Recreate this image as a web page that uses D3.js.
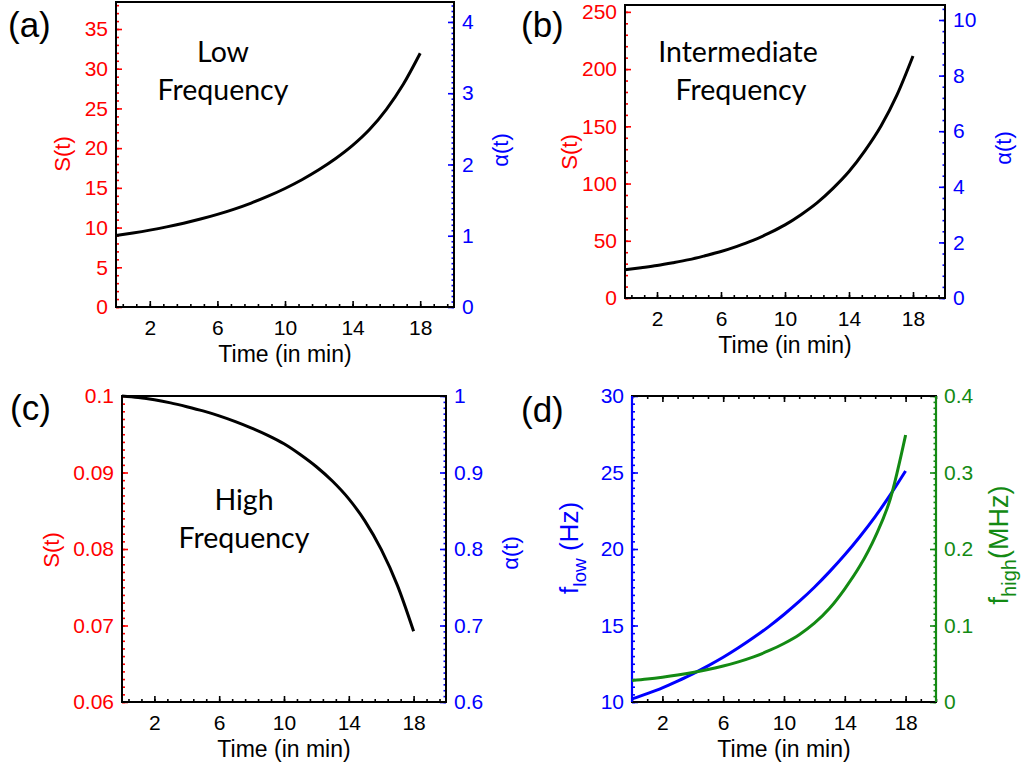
<!DOCTYPE html>
<html>
<head>
<meta charset="utf-8">
<title>Frecuencias</title>
<script src="https://cdn.jsdelivr.net/npm/d3@7"></script>
<style>
  body { margin: 0; background: #fff; }
  text { font-family: "Liberation Sans", Arial, sans-serif; }
  .nota { font-family: Lato, "Open Sans", sans-serif; }
</style>
</head>
<body>
<svg id="fig" width="1032" height="769"></svg>
<script>
// tiempo en minutos
const tiempo = [0, 1, 2, 3, 4, 5, 6, 7, 8, 9, 10, 11, 12, 13, 14, 15, 16, 17, 18];

// (a) baja frecuencia, S(t)
const sBaja = [9.0, 9.32, 9.68, 10.09, 10.55, 11.07, 11.66, 12.33, 13.09, 13.95, 14.92,
  16.02, 17.27, 18.69, 20.34, 22.34, 24.89, 28.04, 31.94];
// (b) frecuencia intermedia, S(t)
const sMedia = [24.7, 26.5, 28.4, 30.8, 33.5, 36.9, 40.6, 45.1, 50.3, 56.6, 63.9,
  72.8, 83.1, 95.8, 110.5, 128.8, 150.3, 177.5, 211.5];
// (c) alta frecuencia, S(t)
const sAlta = [0.1, 0.0998, 0.0995, 0.0991, 0.0986, 0.09805, 0.0974, 0.09665, 0.0958,
  0.09485, 0.09375, 0.09235, 0.09075, 0.08885, 0.08655, 0.08365, 0.07995, 0.07525, 0.06925];
// (d) f_low (Hz) y f_high (MHz)
const fBaja = [10.2, 10.55, 10.93, 11.37, 11.84, 12.36, 12.92, 13.54, 14.21, 14.93, 15.72,
  16.57, 17.50, 18.52, 19.62, 20.82, 22.12, 23.55, 25.10];
const fAlta = [0.028, 0.030, 0.0324, 0.0352, 0.0385, 0.0424, 0.0470, 0.0525, 0.0590, 0.0670,
  0.0765, 0.0880, 0.1030, 0.1225, 0.148, 0.178, 0.216, 0.266, 0.349];

// ticks
const ticksX = [2, 6, 10, 14, 18];
const ticksA_izq = [0, 5, 10, 15, 20, 25, 30, 35];
const ticksA_der = [0, 1, 2, 3, 4];
const ticksB_izq = [0, 50, 100, 150, 200, 250];
const ticksB_der = [0, 2, 4, 6, 8, 10];
const ticksC_izq = [0.06, 0.07, 0.08, 0.09, 0.1];
const ticksC_der = [0.6, 0.7, 0.8, 0.9, 1];
const ticksD_izq = [10, 15, 20, 25, 30];
const ticksD_der = [0, 0.1, 0.2, 0.3, 0.4];

const ROJO = "#ff0000", AZUL = "#0000ff", VERDE = "#138a13";

const svg = d3.select("#fig");

function menores(dom, paso, origen) {
  const out = [];
  const lo = Math.min(dom[0], dom[1]), hi = Math.max(dom[0], dom[1]);
  const n0 = Math.ceil((lo - origen) / paso - 1e-9);
  for (let i = n0; origen + i * paso <= hi + 1e-9; i++) out.push(origen + i * paso);
  return out;
}

function estilo(sel, color) {
  sel.select(".domain").remove();
  sel.selectAll(".tick line").attr("stroke", color).attr("stroke-width", 1.6);
  sel.selectAll(".tick text").attr("fill", color).style("font-size", "21px")
    .style("font-family", "'Liberation Sans', Arial, sans-serif");
}

function panel(p) {
  const g = svg.append("g");
  const x = d3.scaleLinear().domain([0, 20]).range([p.izq, p.der]);
  const yI = d3.scaleLinear().domain(p.domI).range([p.abajo, p.arriba]);
  const yD = d3.scaleLinear().domain(p.domD).range([p.abajo, p.arriba]);

  // eje x
  const ex = g.append("g").attr("transform", `translate(0,${p.abajo})`)
    .call(d3.axisBottom(x).tickValues(ticksX).tickSize(-6).tickPadding(13));
  estilo(ex, "#000");
  const exm = g.append("g").attr("transform", `translate(0,${p.abajo})`)
    .call(d3.axisBottom(x).tickValues(menores([0, 20], p.pasoX, 2)).tickSize(-3).tickFormat(""));
  estilo(exm, "#000");
  if (p.arribaTicks) {
    const et = g.append("g").attr("transform", `translate(0,${p.arriba})`)
      .call(d3.axisTop(x).tickValues(ticksX).tickSize(-6).tickFormat(""));
    estilo(et, "#000");
    const etm = g.append("g").attr("transform", `translate(0,${p.arriba})`)
      .call(d3.axisTop(x).tickValues(menores([0, 20], p.pasoX, 2)).tickSize(-3).tickFormat(""));
    estilo(etm, "#000");
  }

  // eje izquierdo
  const ei = g.append("g").attr("transform", `translate(${p.izq},0)`)
    .call(d3.axisLeft(yI).tickValues(p.ticksI).tickSize(-6).tickPadding(8).tickFormat(d => String(d)));
  estilo(ei, p.colI);
  const eim = g.append("g").attr("transform", `translate(${p.izq},0)`)
    .call(d3.axisLeft(yI).tickValues(menores(p.domI, p.pasoI, p.ticksI[0])).tickSize(-3).tickFormat(""));
  estilo(eim, p.colI);

  // eje derecho
  const ed = g.append("g").attr("transform", `translate(${p.der},0)`)
    .call(d3.axisRight(yD).tickValues(p.ticksD).tickSize(-6).tickPadding(8).tickFormat(d => String(d)));
  estilo(ed, p.colD);
  const edm = g.append("g").attr("transform", `translate(${p.der},0)`)
    .call(d3.axisRight(yD).tickValues(menores(p.domD, p.pasoD, p.ticksD[0])).tickSize(-2.5).tickFormat(""));
  estilo(edm, p.colD);

  // marco
  g.append("rect").attr("x", p.izq).attr("y", p.arriba)
    .attr("width", p.der - p.izq).attr("height", p.abajo - p.arriba)
    .attr("fill", "none").attr("stroke", "#000").attr("stroke-width", 2);
  if (p.lineaI) g.append("line").attr("x1", p.izq).attr("x2", p.izq)
    .attr("y1", p.arriba).attr("y2", p.abajo).attr("stroke", p.lineaI).attr("stroke-width", 2.2);
  if (p.lineaD) g.append("line").attr("x1", p.der).attr("x2", p.der)
    .attr("y1", p.arriba).attr("y2", p.abajo).attr("stroke", p.lineaD).attr("stroke-width", 2.2);

  // curvas
  p.series.forEach(s => {
    const y = s.eje === "der" ? yD : yI;
    const linea = d3.line().x((d, i) => x(tiempo[i])).y(d => y(d)).curve(d3.curveMonotoneX);
    g.append("path").datum(s.valores).attr("d", linea)
      .attr("fill", "none").attr("stroke", s.color).attr("stroke-width", 3);
  });

  // titulo eje x
  g.append("text").attr("x", (p.izq + p.der) / 2).attr("y", p.abajo + 55)
    .attr("text-anchor", "middle").style("font-size", "23px").text("Time (in min)");

  // etiqueta de panel
  g.append("text").attr("x", p.letra[0]).attr("y", p.letra[1])
    .style("font-size", "35px").text(p.nombre);

  // nota
  if (p.nota) p.nota.forEach(n => {
    g.append("text").attr("class", "nota").attr("x", n[1]).attr("y", n[2])
      .attr("text-anchor", "middle").style("font-size", "28.5px").text(n[0]);
  });
  return g;
}

function tituloRot(x, y, color, tam) {
  return svg.append("text").attr("transform", `translate(${x},${y}) rotate(-90)`)
    .attr("text-anchor", "middle").attr("fill", color).style("font-size", (tam || 22) + "px");
}

panel({
  nombre: "(a)", letra: [8, 37],
  izq: 116, der: 454, arriba: 2, abajo: 307,
  domI: [0, 38.4], domD: [0, 4.28],
  ticksI: ticksA_izq, ticksD: ticksA_der,
  pasoI: 1, pasoD: 1 / 13, pasoX: 0.8,
  colI: ROJO, colD: AZUL,
  series: [{ valores: sBaja, color: "#000" }],
  nota: [["Low", 223, 62], ["Frequency", 223, 100]]
});
tituloRot(70, 154, ROJO).text("S(t)");
tituloRot(508, 150, AZUL).text("α(t)");

panel({
  nombre: "(b)", letra: [521, 37],
  izq: 625, der: 945, arriba: 5, abajo: 298,
  domI: [0, 256], domD: [0, 10.54],
  ticksI: ticksB_izq, ticksD: ticksB_der,
  pasoI: 10, pasoD: 0.4, pasoX: 0.8,
  colI: ROJO, colD: AZUL,
  series: [{ valores: sMedia, color: "#000" }],
  nota: [["Intermediate", 738, 62], ["Frequency", 741, 100]]
});
tituloRot(577, 152, ROJO).text("S(t)");
tituloRot(1011, 148, AZUL).text("α(t)");

panel({
  nombre: "(c)", letra: [10, 420],
  izq: 122, der: 446, arriba: 396, abajo: 702,
  domI: [0.06, 0.1], domD: [0.6, 1],
  ticksI: ticksC_izq, ticksD: ticksC_der,
  pasoI: 0.001, pasoD: 0.1 / 13, pasoX: 0.8,
  colI: ROJO, colD: AZUL,
  series: [{ valores: sAlta, color: "#000" }],
  nota: [["High", 244, 510], ["Frequency", 244, 548]]
});
tituloRot(59, 550, ROJO).text("S(t)");
tituloRot(518, 553, AZUL).text("α(t)");

panel({
  nombre: "(d)", letra: [521, 422],
  izq: 632, der: 936, arriba: 396, abajo: 702,
  domI: [10, 30], domD: [0, 0.4],
  ticksI: ticksD_izq, ticksD: ticksD_der,
  pasoI: 0.5, pasoD: 0.1 / 13, pasoX: 1,
  colI: AZUL, colD: VERDE, lineaI: AZUL, lineaD: VERDE, arribaTicks: true,
  series: [{ valores: fBaja, color: AZUL }, { valores: fAlta, color: VERDE, eje: "der" }]
});
const tl = tituloRot(578, 548, AZUL, 26);
tl.append("tspan").text("f");
tl.append("tspan").attr("dy", 8).style("font-size", "19px").text("low");
tl.append("tspan").attr("dy", -8).text(" (Hz)");
const th = tituloRot(1008, 545, VERDE, 27);
th.append("tspan").text("f");
th.append("tspan").attr("dy", 8).style("font-size", "20px").text("high");
th.append("tspan").attr("dy", -8).text("(MHz)");
</script>
</body>
</html>
